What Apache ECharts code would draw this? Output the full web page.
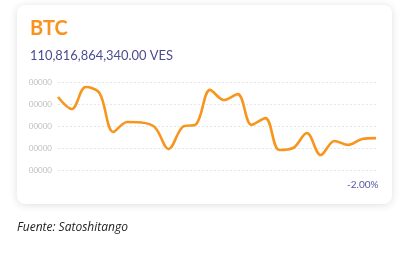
<!DOCTYPE html>
<html><head><meta charset="utf-8">
<script src="https://cdn.jsdelivr.net/npm/echarts@6/dist/echarts.min.js"></script>
<style>html,body{margin:0;padding:0;background:#fff}#c{width:417px;height:253px}</style>
</head><body><div id="c"></div>
<script>
const coin = 'BTC';
const priceText = '110,816,864,340.00 VES';
const changeText = '-2.00%';
const sourceText = 'Fuente: Satoshitango';
const tickLabels = ['00000', '00000', '00000', '00000', '00000'];
const categories = Array.from({length: 24}, (_, i) => 'p' + (i + 1));
const values = [3.32, 2.77, 3.77, 3.5, 1.73, 2.18, 2.16, 1.95, 0.95, 1.95, 2.09, 3.64, 3.18, 3.45, 2.05, 2.36, 0.91, 1.0, 1.68, 0.68, 1.32, 1.14, 1.41, 1.45];

const chart = echarts.init(document.getElementById('c'), null, {renderer: 'canvas'});
chart.setOption({
  animation: false,
  backgroundColor: '#ffffff',
  graphic: [
    {type: 'rect', z: -10, shape: {x: 17, y: 5, width: 375, height: 199, r: 8},
     style: {fill: '#fff', shadowBlur: 8, shadowColor: 'rgba(0,0,0,0.13)', shadowOffsetY: 1}},
    {type: 'text', left: 30, top: 19, style: {text: coin, fill: '#f7931e', font: 'bold 20px Lato'}},
    {type: 'text', left: 30, top: 49, style: {text: priceText, fill: '#4b4c8f', font: '12.9px Lato'}},
    {type: 'text', left: 347, top: 180, style: {text: changeText, fill: '#5557a0', font: '10px Lato'}},
    {type: 'text', left: 17, top: 222, style: {text: sourceText, fill: '#222', font: 'italic 12px "Open Sans"'}}
  ],
  grid: {left: 58, right: 41, top: 82, bottom: 83},
  xAxis: {type: 'category', data: categories, boundaryGap: false, show: false},
  yAxis: {type: 'value', min: 0, max: 4, interval: 1,
    axisLine: {show: false}, axisTick: {show: false},
    axisLabel: {formatter: (v) => tickLabels[v], color: '#bdbdbd', fontSize: 8, fontFamily: 'Lato', margin: 6},
    splitLine: {lineStyle: {color: '#e6e6e6', type: [2, 2], width: 1}}},
  series: [{type: 'line', data: values, smooth: 0.35, symbol: 'none',
    lineStyle: {color: '#f7961f', width: 2.6}}]
});
</script></body></html>
